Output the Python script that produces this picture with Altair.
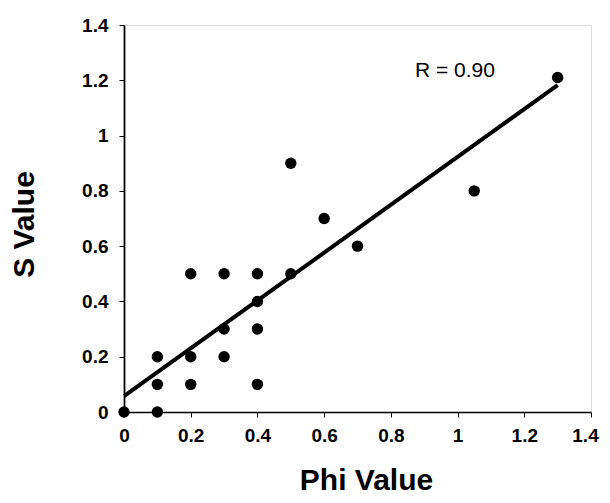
import altair as alt
import pandas as pd

phi = [0, 0.1, 0.1, 0.1, 0.2, 0.2, 0.2, 0.3, 0.3, 0.3, 0.4, 0.4, 0.4, 0.4, 0.5, 0.5, 0.6, 0.7, 1.05, 1.3]
s_val = [0, 0, 0.1, 0.2, 0.1, 0.2, 0.5, 0.2, 0.3, 0.5, 0.1, 0.3, 0.4, 0.5, 0.5, 0.9, 0.7, 0.6, 0.8, 1.21]
ticks = [0, 0.2, 0.4, 0.6, 0.8, 1.0, 1.2, 1.4]
label_text = ["R = 0.90"]
label_x = [0.992]
label_y = [1.234]

df = pd.DataFrame({"phi": phi, "s": s_val})
lab = pd.DataFrame({"t": label_text, "x": label_x, "y": label_y})

FONT = "Liberation Sans"

xscale = alt.Scale(domain=[0, 1.4], nice=False, zero=True)
yscale = alt.Scale(domain=[0, 1.4], nice=False, zero=True)

xaxis = alt.Axis(values=ticks, format="~g", title="Phi Value", grid=False, domainColor="black",
                 domainWidth=1.5, tickColor="black", tickSize=5, labelFont=FONT,
                 labelFontSize=19, labelFontWeight="bold", labelColor="black",
                 labelPadding=9, titleFont=FONT, titleFontSize=30, titleFontWeight="bold",
                 titleColor="black", titleX=242, titleY=77, titleBaseline="alphabetic",
                 titleAlign="center", labelFlush=False,
                 labelOffset=alt.condition("datum.value >= 1.39", alt.value(-6), alt.value(0)))
yaxis = alt.Axis(values=ticks, format="~g", title="S Value", grid=False, domainColor="black",
                 domainWidth=1.8, tickColor="black", tickSize=5, labelFont=FONT,
                 labelFontSize=19, labelFontWeight="bold", labelColor="black",
                 labelPadding=11, titleFont=FONT, titleFontSize=30, titleFontWeight="bold",
                 titleColor="black", titleX=-91, titleY=199, titleBaseline="alphabetic",
                 titleAlign="center", titleAngle=270, labelFlush=False)

points = alt.Chart(df).mark_circle(size=130, color="black", opacity=1).encode(
    x=alt.X("phi:Q", scale=xscale, axis=xaxis),
    y=alt.Y("s:Q", scale=yscale, axis=yaxis),
)

line = alt.Chart(df).transform_regression("phi", "s").mark_line(
    color="black", strokeWidth=4
).encode(
    x=alt.X("phi:Q", scale=xscale),
    y=alt.Y("s:Q", scale=yscale),
)

text = alt.Chart(lab).mark_text(font=FONT, fontSize=21, color="black", baseline="middle").encode(
    x=alt.X("x:Q", scale=xscale),
    y=alt.Y("y:Q", scale=yscale),
    text="t:N",
)

chart = alt.layer(line, points, text).properties(
    width=467, height=387,
    autosize=alt.AutoSizeParams(type="none"),
    padding={"left": 116, "top": 17, "right": 11, "bottom": 83},
).configure_view(
    stroke="#888888", strokeDash=[1, 1], strokeWidth=1
).configure(background="white")

chart.save("out.html", embed_options={"renderer": "svg", "actions": False})
